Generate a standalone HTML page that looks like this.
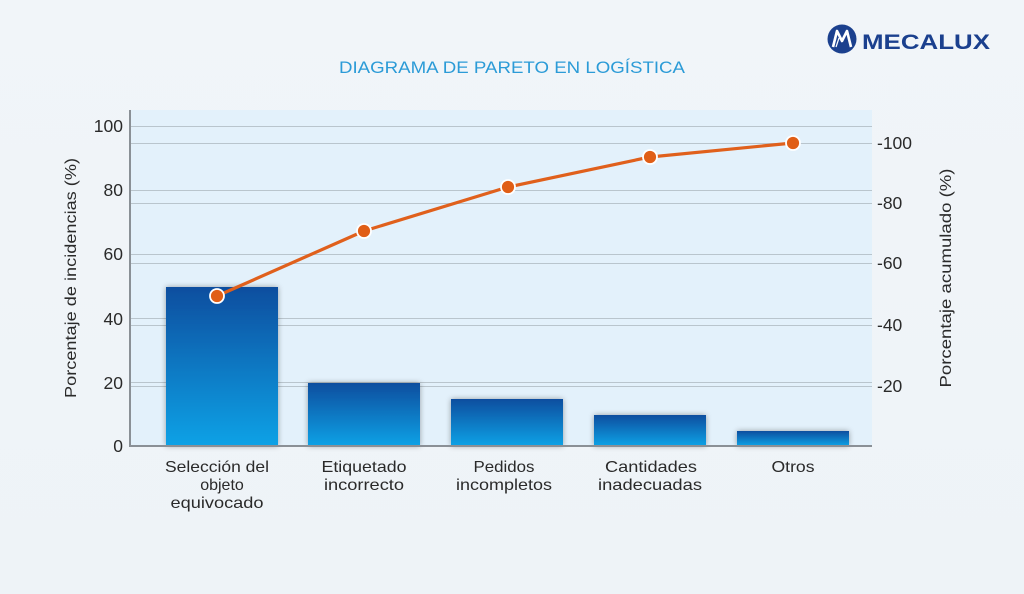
<!DOCTYPE html>
<html><head><meta charset="utf-8"><style>
html,body{margin:0;padding:0;background:#eff4f8;}
svg{display:block;}
text{font-family:"Liberation Sans",sans-serif;}
</style></head><body>
<svg width="1024" height="594" viewBox="0 0 1024 594" xmlns="http://www.w3.org/2000/svg">
<defs>
<linearGradient id="bg" x1="0" y1="0" x2="0" y2="1">
<stop offset="0" stop-color="#f1f5f9"/><stop offset="1" stop-color="#eef3f7"/>
</linearGradient>
<linearGradient id="bar" x1="0" y1="0" x2="0" y2="1">
<stop offset="0" stop-color="#0b4e9f"/><stop offset="1" stop-color="#08a2e6"/>
</linearGradient>
<filter id="sh" x="-20%" y="-20%" width="140%" height="140%">
<feGaussianBlur in="SourceAlpha" stdDeviation="3"/>
<feOffset dx="0" dy="0"/>
<feComponentTransfer><feFuncA type="linear" slope="0.35"/></feComponentTransfer>
<feMerge><feMergeNode/><feMergeNode in="SourceGraphic"/></feMerge>
</filter>
</defs>
<rect width="1024" height="594" fill="url(#bg)"/>

<!-- logo -->
<circle cx="842" cy="39" r="14.5" fill="#1b408e"/>
<path d="M833 47 L837 31 L842 41 L847 31 L851 47" fill="none" stroke="#ffffff" stroke-width="2.6" stroke-linejoin="round"/>
<path d="M836 47 L839 38" stroke="#ffffff" stroke-width="1.2"/>
<text x="862" y="49" font-family="DejaVu Sans" font-weight="bold" font-size="21" fill="#1b408e" textLength="128" lengthAdjust="spacingAndGlyphs">MECALUX</text>

<!-- title -->
<text x="512" y="73" text-anchor="middle" font-size="17" fill="#2b9bd7" textLength="346" lengthAdjust="spacingAndGlyphs">DIAGRAMA DE PARETO EN LOGÍSTICA</text>

<!-- plot area -->
<rect x="130" y="110" width="742" height="336" fill="#e3f1fb"/>
<g stroke="#b9c5cd" stroke-width="1">
<line x1="130" y1="126.5" x2="872" y2="126.5"/>
<line x1="130" y1="190.5" x2="872" y2="190.5"/>
<line x1="130" y1="254.5" x2="872" y2="254.5"/>
<line x1="130" y1="318.5" x2="872" y2="318.5"/>
<line x1="130" y1="382.5" x2="872" y2="382.5"/>
<line x1="130" y1="143.5" x2="872" y2="143.5"/>
<line x1="130" y1="203.5" x2="872" y2="203.5"/>
<line x1="130" y1="263.5" x2="872" y2="263.5"/>
<line x1="130" y1="325.5" x2="872" y2="325.5"/>
<line x1="130" y1="386.5" x2="872" y2="386.5"/>
</g>

<!-- bars -->
<g filter="url(#sh)">
<rect x="166" y="287" width="112" height="159" fill="url(#bar)"/>
<rect x="308" y="383" width="112" height="63" fill="url(#bar)"/>
<rect x="451" y="399" width="112" height="47" fill="url(#bar)"/>
<rect x="594" y="415" width="112" height="31" fill="url(#bar)"/>
<rect x="737" y="431" width="112" height="15" fill="url(#bar)"/>
</g>

<!-- axes -->
<line x1="130" y1="110" x2="130" y2="447" stroke="#8a9096" stroke-width="2"/>
<line x1="129" y1="446" x2="872" y2="446" stroke="#8a9096" stroke-width="2"/>

<!-- left ticks -->
<g font-size="17.5" fill="#2a2a2a" text-anchor="end">
<text x="123" y="132">100</text>
<text x="123" y="196">80</text>
<text x="123" y="260">60</text>
<text x="123" y="325">40</text>
<text x="123" y="389">20</text>
<text x="123" y="452">0</text>
</g>
<!-- right ticks -->
<g font-size="17.5" fill="#2a2a2a">
<text x="877" y="149">-100</text>
<text x="877" y="209">-80</text>
<text x="877" y="269">-60</text>
<text x="877" y="331">-40</text>
<text x="877" y="392">-20</text>
</g>

<!-- axis titles -->
<text transform="translate(76,278) rotate(-90)" text-anchor="middle" font-size="16" fill="#2a2a2a" textLength="240" lengthAdjust="spacingAndGlyphs">Porcentaje de incidencias (%)</text>
<text transform="translate(951,278) rotate(-90)" text-anchor="middle" font-size="16" fill="#2a2a2a" textLength="219" lengthAdjust="spacingAndGlyphs">Porcentaje acumulado (%)</text>

<!-- x labels -->
<g font-size="16" fill="#2a2a2a" text-anchor="middle">
<text x="217" y="472" textLength="104" lengthAdjust="spacingAndGlyphs">Selección del</text>
<text x="222" y="490">objeto</text>
<text x="217" y="508" textLength="93" lengthAdjust="spacingAndGlyphs">equivocado</text>
<text x="364" y="472" textLength="85" lengthAdjust="spacingAndGlyphs">Etiquetado</text>
<text x="364" y="490" textLength="80" lengthAdjust="spacingAndGlyphs">incorrecto</text>
<text x="504" y="472" textLength="61" lengthAdjust="spacingAndGlyphs">Pedidos</text>
<text x="504" y="490" textLength="96" lengthAdjust="spacingAndGlyphs">incompletos</text>
<text x="651" y="472" textLength="92" lengthAdjust="spacingAndGlyphs">Cantidades</text>
<text x="650" y="490" textLength="104" lengthAdjust="spacingAndGlyphs">inadecuadas</text>
<text x="793" y="472" textLength="43" lengthAdjust="spacingAndGlyphs">Otros</text>
</g>

<!-- pareto line -->
<polyline points="217,296 364,231 508,187 650,157 793,143" fill="none" stroke="#e0601c" stroke-width="3.2" stroke-linejoin="round"/>
<g fill="#e05e16" stroke="#ffffff" stroke-width="1.8">
<circle cx="217" cy="296" r="7"/>
<circle cx="364" cy="231" r="7"/>
<circle cx="508" cy="187" r="7"/>
<circle cx="650" cy="157" r="7"/>
<circle cx="793" cy="143" r="7"/>
</g>
</svg>
</body></html>
